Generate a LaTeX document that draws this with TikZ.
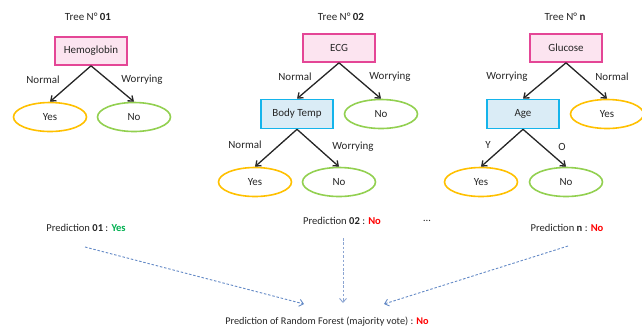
\documentclass[tikz,border=0pt]{standalone}
\usepackage{fontspec}
\setmainfont{Carlito}
\usetikzlibrary{arrows.meta,shapes.geometric}
\definecolor{pinkb}{RGB}{228,70,150}
\definecolor{pinkf}{RGB}{252,228,240}
\definecolor{blueb}{RGB}{20,180,235}
\definecolor{bluef}{RGB}{218,236,246}
\definecolor{yel}{RGB}{255,192,0}
\definecolor{grn}{RGB}{146,208,80}
\definecolor{redt}{RGB}{255,0,0}
\definecolor{grnt}{RGB}{0,176,80}
\definecolor{dashc}{RGB}{100,138,198}
\definecolor{dashl}{RGB}{140,165,210}
\tikzset{
  txt/.style={font=\fontsize{11}{13}\selectfont, inner sep=0pt, text=black!85},
  ptxt/.style={font=\fontsize{10.6}{13}\selectfont, inner sep=0pt, text=black!85},
  pinkbox/.style={draw=pinkb, fill=pinkf, line width=1.6bp, minimum width=72bp, minimum height=28bp, txt},
  bluebox/.style={draw=blueb, fill=bluef, line width=1.6bp, minimum width=72bp, minimum height=29bp, txt},
  yesell/.style={ellipse, draw=yel, line width=1.6bp, minimum width=73bp, minimum height=29bp, txt},
  noell/.style={ellipse, draw=grn, line width=1.6bp, minimum width=73bp, minimum height=29bp, txt},
  tarr/.style={-{Straight Barb[length=4.5bp,width=7bp]}, line width=1.3bp, black!85},
  varr/.style={-{Straight Barb[length=4bp,width=7bp]}, line width=0.9bp, dashc, dash pattern=on 2.5bp off 1.8bp},
}
\begin{document}
\begin{tikzpicture}[x=1bp,y=-1bp]
\useasboundingbox (0,0) rectangle (642,331);
% Tree 1
\node[txt] (t1) at (88,17) {Tree N° \textbf{01}};
\node[pinkbox] (h) at (91,51) {Hemoglobin};
\node[yesell] (y1) at (50,117) {Yes};
\node[noell] (n1) at (134,117) {No};
\draw[tarr] (h.south) -- (y1.north);
\draw[tarr] (h.south) -- (n1.north);
\node[txt] (l1a) at (43,80) {Normal};
\node[txt] (l1b) at (142,80) {Worrying};
% Tree 2
\node[txt] (t2) at (341,17) {Tree N° \textbf{02}};
\node[pinkbox] (ecg) at (339,48) {ECG};
\node[bluebox] (bt) at (297,114) {Body Temp};
\node[noell] (n2a) at (381,114) {No};
\node[yesell] (y2) at (255,182) {Yes};
\node[noell] (n2b) at (339,182) {No};
\draw[tarr] (ecg.south) -- (bt.north);
\draw[tarr] (ecg.south) -- (n2a.north);
\draw[tarr] (bt.south) -- (y2.north);
\draw[tarr] (bt.south) -- (n2b.north);
\node[txt] (l2a) at (295,77) {Normal};
\node[txt] (l2b) at (390,77) {Worrying};
\node[txt] (l2c) at (245,145) {Normal};
\node[txt] (l2d) at (353,147) {Worrying};
% Tree n
\node[txt] (tn) at (565,17) {Tree N° \textbf{n}};
\node[pinkbox] (glu) at (566,48) {Glucose};
\node[bluebox] (age) at (523,114) {Age};
\node[yesell] (yn1) at (607,114) {Yes};
\node[yesell] (yn2) at (481,182) {Yes};
\node[noell] (nn) at (566,182) {No};
\draw[tarr] (glu.south) -- (age.north);
\draw[tarr] (glu.south) -- (yn1.north);
\draw[tarr] (age.south) -- (yn2.north);
\draw[tarr] (age.south) -- (nn.north);
\node[txt] (lna) at (507,77) {Worrying};
\node[txt] (lnb) at (612,77) {Normal};
\node[txt] (lnc) at (488,145) {Y};
\node[txt] (lnd) at (562,147) {O};
% Predictions
\node[ptxt] (p1) at (86,228) {Prediction \textbf{01} : \textcolor{grnt}{\textbf{Yes}}};
\node[ptxt] (p2) at (342,221) {Prediction \textbf{02} : \textcolor{redt}{\textbf{No}}};
\node[ptxt] (dots) at (427,221) {\dots};
\node[ptxt] (pn) at (567,228) {Prediction \textbf{n} : \textcolor{redt}{\textbf{No}}};
\node[ptxt,font=\fontsize{10.3}{13}\selectfont] (f) at (327,322) {Prediction of Random Forest (majority vote) : \textcolor{redt}{\textbf{No}}};
\coordinate (s1) at (85,247);
\coordinate (e1) at (304,304);
\coordinate (s2) at (343,238);
\coordinate (e2) at (343,303);
\coordinate (sn) at (568,246);
\coordinate (en) at (384,304);
\draw[varr] (s1) -- (e1);
\draw[varr, dashl] (s2) -- (e2);
\draw[varr] (sn) -- (en);
\end{tikzpicture}
\end{document}
